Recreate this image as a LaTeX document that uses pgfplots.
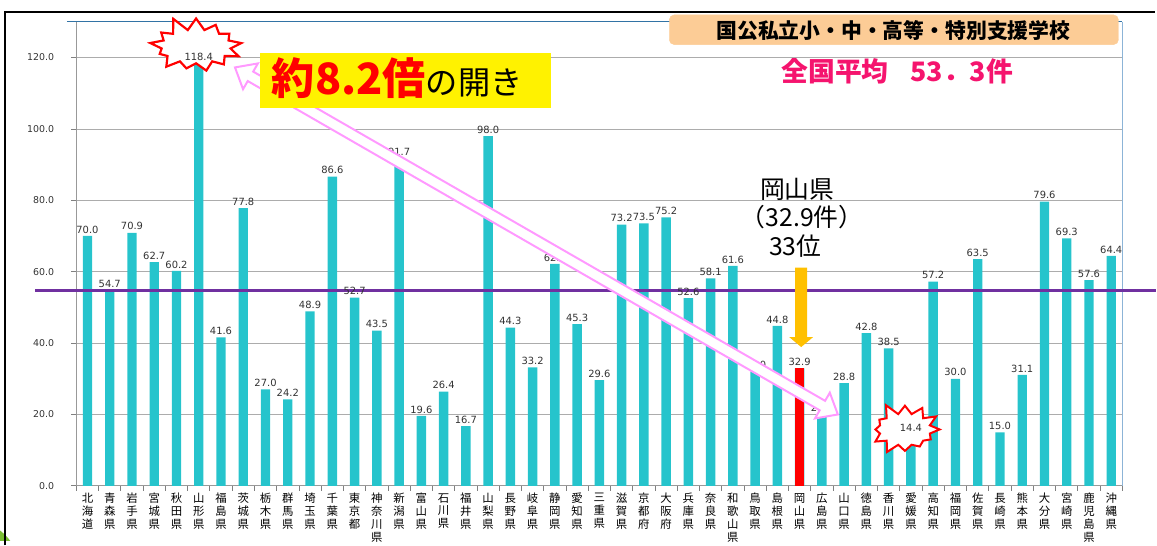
\documentclass[border=0pt]{standalone}
\usepackage{fontspec}
\setmainfont{DejaVu Sans}
\newfontfamily\jp{Noto Sans CJK JP}
\usepackage{pgfplots}
\pgfplotsset{compat=1.18}
\usepackage{pgfplotstable}
\usetikzlibrary{shapes.symbols,calc}

\definecolor{barc}{RGB}{38,196,204}
\definecolor{okared}{RGB}{255,0,0}
\definecolor{avgc}{RGB}{112,48,160}
\definecolor{pinkc}{RGB}{255,153,255}
\definecolor{orangec}{RGB}{255,192,0}
\definecolor{titlebox}{RGB}{252,204,150}
\definecolor{avgtext}{RGB}{245,20,110}
\definecolor{topblue}{RGB}{50,115,165}
\definecolor{rightblue}{RGB}{140,180,215}
\definecolor{greenc}{RGB}{122,190,50}
\definecolor{labc}{RGB}{50,50,50}

\pgfplotstableread{
idx val
0 70.0
1 54.7
2 70.9
3 62.7
4 60.2
5 118.4
6 41.6
7 77.8
8 27.0
9 24.2
10 48.9
11 86.6
12 52.7
13 43.5
14 91.7
15 19.6
16 26.4
17 16.7
18 98.0
19 44.3
20 33.2
21 62.2
22 45.3
23 29.6
24 73.2
25 73.5
26 75.2
27 52.6
28 58.1
29 61.6
30 32.0
31 44.8
32 32.9
33 20.1
34 28.8
35 42.8
36 38.5
37 14.4
38 57.2
39 30.0
40 63.5
41 15.0
42 31.1
43 79.6
44 69.3
45 57.6
46 64.4
}\datatable

\pgfplotstableread{
idx val
32 32.9
}\okayama

\begin{document}
\begin{tikzpicture}
\begin{scope}[x=1pt,y=1pt]
\useasboundingbox (0,0) rectangle (1157,545);
\begin{scope}
\clip (0,0) rectangle (1157,545);
\fill[greenc] (-30,-30) circle (50pt);
\end{scope}
\draw[black, line width=2.5pt] (5,-5) -- (5,533) -- (1165,533);
\end{scope}
\begin{axis}[
  at={(77pt,55pt)}, anchor=south west,
  scale only axis, width=1055pt, height=468pt,
  xmin=-0.5, xmax=46.5, ymin=0, ymax=130,
  clip=false,
  axis line style={draw=none},
  ybar, bar width=9.5pt, bar shift=0pt,
  ytick={0,20,...,120},
  xtick={0,...,46},
  minor xtick={-0.5,0.5,...,46.5},
  tick align=outside, tick pos=left,
  major tick length=5pt, minor tick length=5pt,
  major x tick style={draw=none},
  minor x tick style={gray, line width=0.8pt},
  ytick style={gray, line width=0.8pt},
  ymajorgrids,
  major grid style={gray!65, line width=0.8pt},
  /pgf/number format/fixed,
  /pgf/number format/fixed zerofill,
  /pgf/number format/precision=1,
  /pgf/number format/assume math mode=true,
  yticklabel style={font=\fontsize{9.5}{11}\selectfont, text=labc, xshift=-14pt},
  xticklabel style={font=\jp\fontsize{11.5}{13}\selectfont, align=center, text=black, anchor=north, yshift=1pt},
  xticklabels={{北\\海\\道},{青\\森\\県},{岩\\手\\県},{宮\\城\\県},{秋\\田\\県},{山\\形\\県},{福\\島\\県},{茨\\城\\県},{栃\\木\\県},{群\\馬\\県},{埼\\玉\\県},{千\\葉\\県},{東\\京\\都},{神\\奈\\川\\県},{新\\潟\\県},{富\\山\\県},{石\\川\\県},{福\\井\\県},{山\\梨\\県},{長\\野\\県},{岐\\阜\\県},{静\\岡\\県},{愛\\知\\県},{三\\重\\県},{滋\\賀\\県},{京\\都\\府},{大\\阪\\府},{兵\\庫\\県},{奈\\良\\県},{和\\歌\\山\\県},{鳥\\取\\県},{島\\根\\県},{岡\\山\\県},{広\\島\\県},{山\\口\\県},{徳\\島\\県},{香\\川\\県},{愛\\媛\\県},{高\\知\\県},{福\\岡\\県},{佐\\賀\\県},{長\\崎\\県},{熊\\本\\県},{大\\分\\県},{宮\\崎\\県},{鹿\\児\\島\\県},{沖\\縄\\県}},
  every node near coord/.append style={font=\fontsize{10}{12}\selectfont, text=labc, inner sep=2.5pt},
]
\draw[gray!80, line width=1pt] (rel axis cs:0,0) -- (rel axis cs:0,1);
\draw[gray!80, line width=1pt] (rel axis cs:0,0) -- (rel axis cs:1,0);
\draw[topblue, line width=1pt] (rel axis cs:-0.009,1) -- (rel axis cs:1,1);
\draw[rightblue, line width=1.2pt] (rel axis cs:1,0) -- (rel axis cs:1,1);

\addplot[fill=barc, draw=none] table[x=idx, y=val] {\datatable};
\addplot[fill=okared, draw=none] table[x=idx, y=val] {\okayama};

\node[starburst, starburst points=13, starburst point height=15pt, random starburst=11,
      draw=red, fill=white, line width=2.2pt, minimum width=100pt, minimum height=64pt]
      at (axis cs:4.88,123.1) {};
\node[starburst, starburst points=12, starburst point height=13pt, random starburst=5,
      draw=red, fill=white, line width=2pt, minimum width=78pt, minimum height=58pt]
      at (axis cs:36.73,15.8) {};

\addplot[draw=none, fill=none, nodes near coords] table[x=idx, y=val] {\datatable};

\draw[avgc, line width=2.5pt] (axis cs:-2.34,54.7) -- (axis cs:48,54.7);
\end{axis}

\begin{scope}[x=1pt,y=1pt]
% pink double arrow
\coordinate (A) at (237,477);
\coordinate (B) at (845,127);
\coordinate (H1) at ($(A)!18pt!(B)$);
\coordinate (H2) at ($(B)!18pt!(A)$);
\filldraw[draw=pinkc, fill=white, line width=2pt, line join=miter]
 (A) -- ($(H1)!15pt!90:(B)$) -- ($(H1)!5.5pt!90:(B)$) -- ($(H2)!5.5pt!-90:(A)$) -- ($(H2)!15pt!-90:(A)$) -- (B) -- ($(H2)!15pt!90:(A)$) -- ($(H2)!5.5pt!90:(A)$) -- ($(H1)!5.5pt!-90:(B)$) -- ($(H1)!15pt!-90:(B)$) -- cycle;

% Okayama arrow
\fill[orangec] (802,275) -- (814,275) -- (814,205) -- (820,205) -- (808,195) -- (796,205) -- (802,205) -- cycle;
\node[font=\jp\fontsize{25}{27}\selectfont] at (804,354) {岡山県};
\node[font=\jp\fontsize{25}{27}\selectfont] at (809,326) {（32.9件）};
\node[font=\jp\fontsize{25}{27}\selectfont] at (802,297) {33位};

% title box
\filldraw[fill=titlebox, draw=titlebox, rounded corners=5pt] (675,500) rectangle (1128,530);
\node[font=\jp\bfseries\fontsize{21}{23}\selectfont] at (901,514) {国公私立小・中・高等・特別支援学校};
\node[font=\jp\bfseries\fontsize{27}{29}\selectfont, text=avgtext] at (905,473) {全国平均\hspace{22pt}53．3件};

% yellow box
\fill[yellow] (262,436) rectangle (556,492);
\node[anchor=base west, inner sep=0pt] at (274,450) {\jp{\bfseries\fontsize{43.5}{45}\selectfont\color{red}約8.2倍}{\fontsize{32.5}{34}\selectfont の開き}};
\end{scope}
\end{tikzpicture}
\end{document}
